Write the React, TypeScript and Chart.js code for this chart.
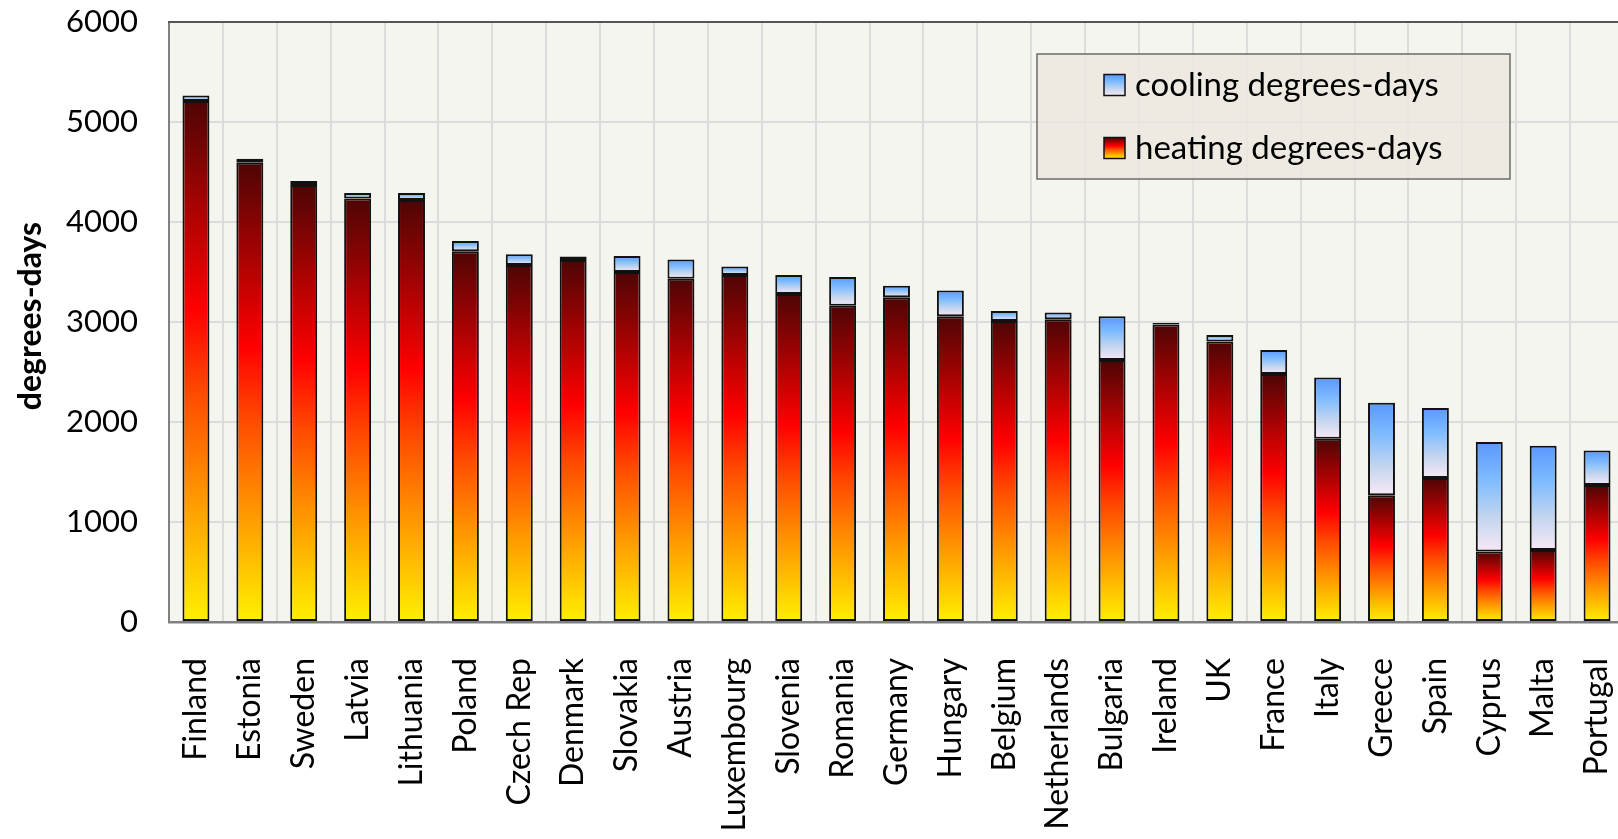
import React, { useEffect, useRef } from 'react';
import { Chart, registerables } from 'chart.js';

Chart.register(...registerables);

const categories = [
  'Finland', 'Estonia', 'Sweden', 'Latvia', 'Lithuania', 'Poland', 'Czech Rep', 'Denmark',
  'Slovakia', 'Austria', 'Luxembourg', 'Slovenia', 'Romania', 'Germany', 'Hungary', 'Belgium',
  'Netherlands', 'Bulgaria', 'Ireland', 'UK', 'France', 'Italy', 'Greece', 'Spain', 'Cyprus',
  'Malta', 'Portugal',
];

const heatingDD = [
  5210, 4592, 4371, 4234, 4220, 3707, 3571, 3619, 3500, 3433, 3470, 3280, 3163, 3247, 3058,
  3010, 3027, 2620, 2975, 2806, 2480, 1832, 1268, 1441, 704, 721, 1371,
];

const coolingDD = [
  56, 40, 40, 56, 70, 104, 106, 36, 160, 191, 84, 190, 287, 116, 257, 100, 69, 437, 15, 64,
  240, 613, 924, 698, 1095, 1041, 344,
];

const yTickValues = [0, 1000, 2000, 3000, 4000, 5000, 6000];
const seriesNames = ['heating degrees-days', 'cooling degrees-days'];
const yTitle = 'degrees-days';

const FONT = "Lato, 'Open Sans', sans-serif";

function heatGradient(ctx: CanvasRenderingContext2D, yTop: number, yBot: number) {
  const g = ctx.createLinearGradient(0, yTop, 0, yBot);
  g.addColorStop(0, '#4e0505');
  g.addColorStop(0.4, '#ff0000');
  g.addColorStop(0.56, '#ff4a00');
  g.addColorStop(0.74, '#ff9000');
  g.addColorStop(0.88, '#ffc400');
  g.addColorStop(1, '#fff000');
  return g;
}

function coolGradient(ctx: CanvasRenderingContext2D, yTop: number, yBot: number) {
  const g = ctx.createLinearGradient(0, yTop, 0, yBot);
  g.addColorStop(0, '#5a98ff');
  g.addColorStop(0.35, '#7fbcff');
  g.addColorStop(0.7, '#c5d6ee');
  g.addColorStop(1, '#f8e8f6');
  return g;
}

function barFill(c: any) {
  if (c.type !== 'data') return '#ff0000';
  const chart = c.chart;
  const ys = chart.scales && chart.scales.y;
  if (!ys || !chart.chartArea) return c.datasetIndex === 0 ? '#ff0000' : '#7fbcff';
  const i = c.dataIndex;
  const base = c.datasetIndex === 0 ? 0 : heatingDD[i];
  const val = c.datasetIndex === 0 ? heatingDD[i] : coolingDD[i];
  const yTop = ys.getPixelForValue(base + val);
  const yBot = ys.getPixelForValue(base);
  if (!isFinite(yTop) || !isFinite(yBot) || yTop === yBot) return '#ff0000';
  return c.datasetIndex === 0
    ? heatGradient(chart.ctx, yTop, yBot)
    : coolGradient(chart.ctx, yTop, yBot);
}

const decorPlugin = {
  id: 'decor',
  beforeDraw(chart: any) {
    const { ctx, chartArea } = chart;
    ctx.save();
    ctx.fillStyle = '#ffffff';
    ctx.fillRect(0, 0, chart.width, chart.height);
    ctx.fillStyle = '#f5f5f0';
    ctx.fillRect(chartArea.left, chartArea.top, chartArea.right - chartArea.left, chartArea.bottom - chartArea.top);
    ctx.restore();
  },
  afterDraw(chart: any) {
    const { ctx, chartArea } = chart;
    ctx.save();
    // top frame
    ctx.strokeStyle = '#555555';
    ctx.lineWidth = 2;
    ctx.beginPath();
    ctx.moveTo(chartArea.left - 1, chartArea.top);
    ctx.lineTo(chartArea.right, chartArea.top);
    ctx.stroke();

    // y title
    ctx.save();
    ctx.translate(31, 316);
    ctx.rotate(-Math.PI / 2);
    ctx.fillStyle = '#000';
    ctx.font = `bold 32px ${FONT}`;
    ctx.textAlign = 'center';
    ctx.textBaseline = 'middle';
    ctx.fillText(yTitle, 0, 0);
    ctx.restore();

    // legend
    const bx = 1037, by = 54, bw = 473, bh = 125;
    ctx.fillStyle = 'rgba(236, 232, 223, 0.85)';
    ctx.fillRect(bx, by, bw, bh);
    ctx.strokeStyle = '#6b6b6b';
    ctx.lineWidth = 1.5;
    ctx.strokeRect(bx, by, bw, bh);

    const items = [
      { label: seriesNames[1], y: 85, grad: coolGradient },
      { label: seriesNames[0], y: 148, grad: heatGradient },
    ];
    items.forEach((it) => {
      const sx = 1104, sy = it.y - 10.5, s = 21;
      ctx.fillStyle = it.grad(ctx, sy, sy + s);
      ctx.fillRect(sx, sy, s, s);
      ctx.strokeStyle = '#111';
      ctx.lineWidth = 1.5;
      ctx.strokeRect(sx, sy, s, s);
      ctx.fillStyle = '#000';
      ctx.font = `33px ${FONT}`;
      ctx.textAlign = 'left';
      ctx.textBaseline = 'middle';
      ctx.fillText(it.label, 1135, it.y);
    });
    ctx.restore();
  },
};

export default function App() {
  const canvasRef = useRef<HTMLCanvasElement | null>(null);

  useEffect(() => {
    if (!canvasRef.current) return;
    const chart = new Chart(canvasRef.current, {
      type: 'bar',
      data: {
        labels: categories,
        datasets: [
          {
            label: seriesNames[0],
            data: heatingDD,
            backgroundColor: barFill as any,
            borderColor: '#111111',
            borderWidth: 2,
            borderSkipped: false,
            barPercentage: 0.5,
            categoryPercentage: 1,
            stack: 's',
          },
          {
            label: seriesNames[1],
            data: coolingDD,
            backgroundColor: barFill as any,
            borderColor: '#111111',
            borderWidth: 2,
            borderSkipped: false,
            barPercentage: 0.5,
            categoryPercentage: 1,
            stack: 's',
          },
        ],
      },
      options: {
        responsive: false,
        animation: false,
        layout: { padding: { top: 22, right: 0, bottom: 0, left: 0 } },
        plugins: {
          legend: { display: false },
          tooltip: { enabled: false },
        },
        scales: {
          x: {
            stacked: true,
            grid: { color: '#dcdcdc', lineWidth: 2, drawTicks: false, offset: true },
            border: { color: '#808080', width: 2.5 },
            ticks: {
              autoSkip: false,
              maxRotation: 90,
              minRotation: 90,
              padding: 36,
              color: '#000',
              font: { family: FONT, size: 32 },
            },
            afterFit: (s: any) => {
              s.height = 217;
              s.paddingLeft = 0;
              s.paddingRight = 0;
              s.paddingTop = 0;
              s.paddingBottom = 0;
            },
          },
          y: {
            stacked: true,
            min: 0,
            max: 6000,
            afterBuildTicks: (s: any) => {
              s.ticks = yTickValues.map((v) => ({ value: v }));
            },
            grid: { color: '#dcdcdc', lineWidth: 2, drawTicks: false },
            border: { color: '#808080', width: 2 },
            ticks: {
              padding: 31,
              color: '#000',
              font: { family: FONT, size: 31 },
              callback: (v: any) => String(v),
            },
            afterFit: (s: any) => {
              s.width = 169;
              s.paddingLeft = 0;
              s.paddingRight = 0;
              s.paddingTop = 0;
              s.paddingBottom = 0;
            },
          },
        },
      },
      plugins: [decorPlugin],
    });
    return () => chart.destroy();
  }, []);

  return (
    <div
      style={{
        position: 'fixed',
        left: 0,
        top: 0,
        width: 1618,
        height: 839,
        overflow: 'hidden',
        background: '#fff',
      }}
    >
      <canvas ref={canvasRef} width={1624} height={839} style={{ display: 'block' }} />
    </div>
  );
}
